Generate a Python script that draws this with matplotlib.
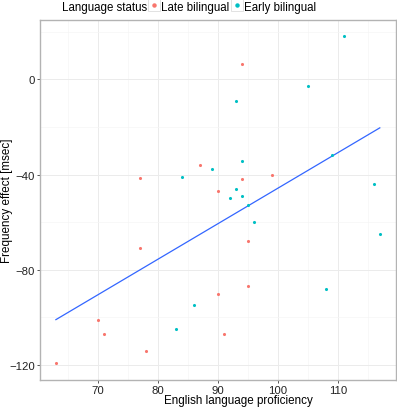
import numpy as np
import matplotlib
matplotlib.use('Agg')
import matplotlib.pyplot as plt
from matplotlib.lines import Line2D
from matplotlib.ticker import MultipleLocator

plt.rcParams['font.family'] = ['Liberation Sans', 'DejaVu Sans']

# data
late_x = [77, 87, 90, 94, 99, 94, 77, 70, 71, 78, 63, 90, 95, 95, 91]
late_y = [-41.5, -36, -47, 6.5, -40, -42, -71, -101, -107, -114, -119, -90, -68, -87, -107]
early_x = [84, 89, 111, 105, 93, 94, 93, 92, 94, 109, 116, 95, 83, 86, 96, 117, 108]
early_y = [-41, -37.5, 18, -3, -9, -34.5, -46, -50, -49, -32, -44, -53, -105, -95, -60, -65, -88]

RED = "#F8766D"
CYAN = "#00BFC4"
BLUE = "#3366FF"

W, H = 397, 410
fig = plt.figure(figsize=(W/100, H/100), dpi=100)
ax = fig.add_axes([40/W, (H-381)/H, 356/W, 360/H])

ax.scatter(late_x, late_y, s=5, color=RED, linewidths=0, zorder=3)
ax.scatter(early_x, early_y, s=5, color=CYAN, linewidths=0, zorder=3)

# linear fit over all points (like geom_smooth(method="lm"))
all_x = np.array(late_x + early_x, dtype=float)
all_y = np.array(late_y + early_y, dtype=float)
slope, icpt = np.polyfit(all_x, all_y, 1)
xs = np.array([all_x.min(), all_x.max()])
ax.plot(xs, slope * xs + icpt, color=BLUE, lw=0.9, zorder=2)

ax.set_xlim(60.35, 119.7)
ax.set_ylim(-126.3, 24.9)
ax.xaxis.set_major_locator(MultipleLocator(10))
ax.xaxis.set_minor_locator(MultipleLocator(5))
ax.yaxis.set_major_locator(MultipleLocator(40))
ax.yaxis.set_minor_locator(MultipleLocator(20))
ax.grid(which='major', color='#ebebeb', lw=0.7)
ax.grid(which='minor', color='#f5f5f5', lw=0.5)
ax.set_axisbelow(True)
ax.tick_params(which='minor', length=0)
ax.tick_params(which='major', length=2.3, width=0.7, color='#555555',
               labelsize=8.2, labelcolor='#222222', pad=1.5)
for sp in ax.spines.values():
    sp.set_color('#b3b3b3')
    sp.set_linewidth(1.0)

# axis titles
fig.text(238.7/W, 1 - 401/H, "English language proficiency", fontsize=8.4,
         ha='center', va='center')
fig.text(7/W, 1 - 201/H, "Frequency effect [msec]", fontsize=8.4,
         ha='center', va='center', rotation=90)

# legend on top, ggplot style
fig.text(62/W, 1 - 7.5/H, "Language status", fontsize=8.3, va='center', ha='left')
box = dict(marker='s', ms=9, mfc='white', mec='#dddddd', mew=0.6, ls='')
h_late = (Line2D([], [], **box), Line2D([], [], marker='o', ms=2.2, color=RED, ls=''))
h_early = (Line2D([], [], **box), Line2D([], [], marker='o', ms=2.2, color=CYAN, ls=''))
fig.legend([h_late, h_early], ["Late bilingual", "Early bilingual"],
           loc='center left', bbox_to_anchor=(148/W, 1 - 7.5/H), ncol=2,
           frameon=False, fontsize=8.3, handlelength=1.0, handletextpad=0.15,
           columnspacing=0.15, borderpad=0, borderaxespad=0)

fig.savefig("out.png", dpi=100)
